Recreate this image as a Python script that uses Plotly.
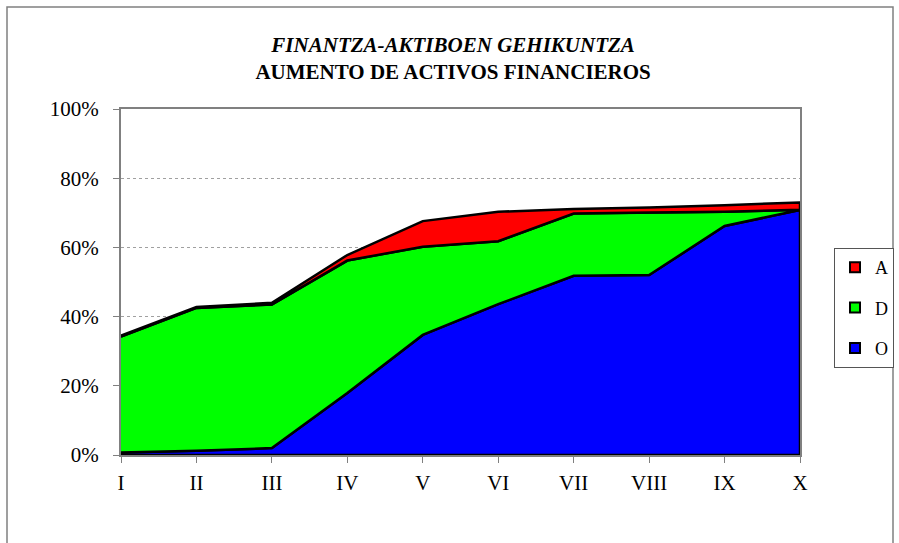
import numpy as np
import plotly.graph_objects as go

categories = ["I", "II", "III", "IV", "V", "VI", "VII", "VIII", "IX", "X"]
O_vals = [0.7, 1.2, 2.0, 17.9, 34.7, 43.6, 51.8, 52.0, 66.2, 70.8]
D_vals = [33.5, 41.3, 41.5, 38.3, 25.5, 18.2, 18.0, 18.1, 4.1, 0.1]
A_vals = [0.3, 0.3, 0.5, 1.6, 7.4, 8.5, 1.3, 1.4, 1.9, 2.1]

series_names = ["O", "D", "A"]
series_vals = [O_vals, D_vals, A_vals]
series_colors = ["#0000FF", "#00FF00", "#FF0000"]

SERIF = "Liberation Serif, Times New Roman, serif"

x = np.arange(len(categories))
fig = go.Figure()

bottom = np.zeros(len(categories))
for name, vals, col in zip(series_names, series_vals, series_colors):
    top = bottom + np.array(vals) / 100.0
    px = np.concatenate([x, x[::-1]])
    py = np.concatenate([top, bottom[::-1]])
    fig.add_trace(go.Scatter(
        x=px, y=py, fill="toself", fillcolor=col, mode="lines",
        line=dict(color="black", width=2.5), showlegend=False,
        hoverinfo="skip"))
    bottom = top

# legend entries (squares), top to bottom A, D, O
for name, col in list(zip(series_names, series_colors))[::-1]:
    fig.add_trace(go.Scatter(
        x=[None], y=[None], mode="markers", name=name, legendgroup=name,
        marker=dict(symbol="square", size=10, color=col,
                    line=dict(color="black", width=2))))

fig.update_layout(
    width=899, height=543,
    margin=dict(l=121, r=99, t=109, b=88, autoexpand=False),
    paper_bgcolor="white", plot_bgcolor="white",
    font=dict(family=SERIF, color="black"),
    title=dict(
        text="<b><i>FINANTZA-AKTIBOEN GEHIKUNTZA</i></b><br><b>AUMENTO DE ACTIVOS FINANCIEROS</b>",
        font=dict(family=SERIF, size=21, color="black"),
        x=0.504, xref="container", xanchor="center",
        y=1 - 52 / 543, yref="container", yanchor="middle"),
    showlegend=True,
    legend=dict(
        x=(834 - 121) / 679, xanchor="left",
        y=(455 - 248) / 346, yanchor="top",
        bordercolor="#555555", borderwidth=1,
        font=dict(family=SERIF, size=18, color="black"),
        traceorder="grouped", tracegroupgap=14,
        itemwidth=30),
)

fig.update_xaxes(
    range=[0, 9], tickvals=list(x), ticktext=categories,
    showgrid=False, zeroline=False,
    showline=True, mirror=True, linecolor="#808080", linewidth=2,
    ticks="outside", ticklen=6, tickcolor="#808080", tickwidth=1,
    tickfont=dict(family=SERIF, size=21, color="black"),
    ticklabelstandoff=2, layer="below traces")

fig.update_yaxes(
    range=[0, 1], dtick=0.2, tickformat=".0%",
    showgrid=True, gridcolor="#a0a0a0", griddash="dot", gridwidth=1,
    zeroline=False,
    showline=True, mirror=True, linecolor="#808080", linewidth=2,
    ticks="outside", ticklen=6, tickcolor="#808080", tickwidth=1,
    tickfont=dict(family=SERIF, size=21, color="black"),
    ticklabelstandoff=10, layer="below traces")

# outer chart frame
fig.add_shape(type="rect", xref="paper", yref="paper",
              x0=(7 - 121) / 679, x1=(893 - 121) / 679,
              y0=(455 - 560) / 346, y1=(455 - 7) / 346,
              line=dict(color="#808080", width=1.5), fillcolor="rgba(0,0,0,0)",
              layer="below")

fig.write_html("out.html", config={"displayModeBar": False},
               post_script="document.body.style.margin='0';")
